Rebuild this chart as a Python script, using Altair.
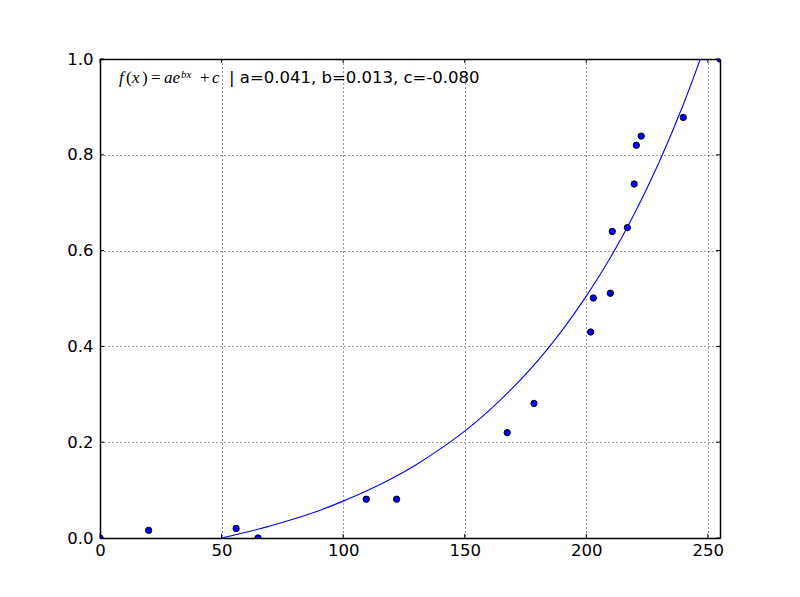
import altair as alt
import pandas as pd

# scatter data
pts_x = [0, 20, 56, 65, 109.5, 122, 167.5, 178.5, 201.8, 202.9, 209.9, 210.7, 216.9, 219.7, 220.6, 222.6, 239.9, 255]
pts_y = [0.0, 0.016, 0.020, 0.0, 0.081, 0.081, 0.220, 0.281, 0.430, 0.501, 0.511, 0.640, 0.648, 0.739, 0.820, 0.839, 0.878, 1.0]

# fitted curve
curve_x = [50, 60, 70, 80, 90, 100, 110, 120, 130, 140, 150, 160, 170, 180, 190, 200, 210, 220, 230, 240, 248]
curve_y = [0.0, 0.012, 0.025, 0.040, 0.057, 0.077, 0.099, 0.124, 0.153, 0.186, 0.223, 0.266, 0.315, 0.370,
           0.433, 0.505, 0.586, 0.679, 0.785, 0.906, 1.015]

x_ticks = [0, 50, 100, 150, 200, 250]
y_ticks = [0.0, 0.2, 0.4, 0.6, 0.8, 1.0]

annot = "| a=0.041, b=0.013, c=-0.080"

W, H = 620, 479
FONT = "DejaVu Sans"
FS = 16.5
TL = 4  # inward tick length

xs = alt.Scale(domain=[0, 255], nice=False, zero=False)
ys = alt.Scale(domain=[0, 1], nice=False, zero=False)

grid_kw = dict(grid=True, gridColor="black", gridDash=[1, 3], gridWidth=0.8, gridOpacity=1)
frame_kw = dict(domain=True, domainColor="black", domainWidth=1.5, ticks=False, tickSize=0, title=None)

pts_df = pd.DataFrame({"x": pts_x, "y": pts_y})
curve_df = pd.DataFrame({"x": curve_x, "y": curve_y})
xt_df = pd.DataFrame({"v": x_ticks})
yt_df = pd.DataFrame({"v": y_ticks})

line = alt.Chart(curve_df).mark_line(color="#0000ff", strokeWidth=1.1, clip=True, interpolate="monotone").encode(
    x=alt.X("x:Q", scale=xs, axis=alt.Axis(orient="top", values=x_ticks, labels=False, grid=False, **frame_kw)),
    y=alt.Y("y:Q", scale=ys, axis=alt.Axis(orient="right", values=y_ticks, labels=False, grid=False, **frame_kw)),
)

pts = alt.Chart(pts_df).mark_circle(color="#0000ff", stroke="black", strokeWidth=1, size=40, opacity=1, clip=True).encode(
    x=alt.X("x:Q", scale=xs, axis=alt.Axis(orient="bottom", values=x_ticks, format="d", labelFont=FONT,
                                           labelFontSize=FS, labelColor="black", labelPadding=4,
                                           labelFlush=False, labelOverlap=False, **grid_kw, **frame_kw)),
    y=alt.Y("y:Q", scale=ys, axis=alt.Axis(orient="left", values=y_ticks, format=".1f", labelFont=FONT,
                                           labelFontSize=FS, labelColor="black", labelPadding=7,
                                           labelFlush=False, labelOverlap=False, **grid_kw, **frame_kw)),
)

# inward tick marks on all four sides
tick_bottom = alt.Chart(xt_df).mark_rule(color="black", strokeWidth=1).encode(
    x=alt.X("v:Q", scale=xs, axis=None), y=alt.value(H), y2=alt.value(H - TL))
tick_top = alt.Chart(xt_df).mark_rule(color="black", strokeWidth=1).encode(
    x=alt.X("v:Q", scale=xs, axis=None), y=alt.value(0), y2=alt.value(TL))
tick_left = alt.Chart(yt_df).mark_rule(color="black", strokeWidth=1).encode(
    y=alt.Y("v:Q", scale=ys, axis=None), x=alt.value(0), x2=alt.value(TL))
tick_right = alt.Chart(yt_df).mark_rule(color="black", strokeWidth=1).encode(
    y=alt.Y("v:Q", scale=ys, axis=None), x=alt.value(W), x2=alt.value(W - TL))


def txt(s, x, y, size=17, font="Liberation Serif", style="italic"):
    return alt.Chart(pd.DataFrame({"t": [s]})).mark_text(
        align="left", baseline="alphabetic", font=font, fontSize=size, fontStyle=style, color="black"
    ).encode(text="t:N", x=alt.value(x), y=alt.value(y))


texts = [
    txt("f", 19, 24),
    txt("(", 26, 24, style="normal"),
    txt("x", 32, 24),
    txt(")", 42, 24, style="normal"),
    txt("=", 51, 24, style="normal"),
    txt("ae", 64, 24),
    txt("bx", 81, 19, size=11),
    txt("+", 100, 24, style="normal"),
    txt("c", 112, 24),
    txt(annot, 129, 24, size=FS, font=FONT, style="normal"),
]

chart = alt.layer(line, pts, tick_bottom, tick_top, tick_left, tick_right, *texts).resolve_axis(
    x="independent", y="independent"
).properties(
    width=W, height=H,
    autosize=alt.AutoSizeParams(type="none"),
    padding={"left": 92, "top": 51, "right": 60, "bottom": 40},
).configure_view(strokeWidth=0).configure(background="white")

chart.save("out.html", embed_options={"renderer": "svg", "actions": False})
